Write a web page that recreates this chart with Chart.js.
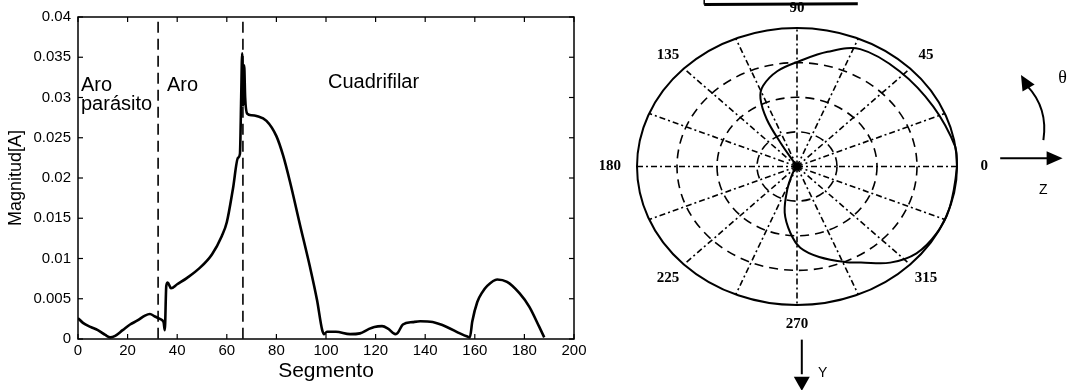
<!DOCTYPE html>
<html>
<head>
<meta charset="utf-8">
<script src="https://cdn.jsdelivr.net/npm/chart.js@4"></script>
<style>
html, body { margin: 0; padding: 0; background: #fff; }
#wrap { position: relative; width: 1075px; height: 390px; overflow: hidden; }
#left { position: absolute; left: 0; top: 0; width: 600px; height: 390px; }
#right { position: absolute; left: 600px; top: 0; width: 475px; height: 390px; }
</style>
</head>
<body>
<div id="wrap">
  <div id="left"><canvas id="currentChart"></canvas></div>
  <div id="right"><canvas id="patternChart"></canvas></div>
</div>
<script>
// CURRENT DISTRIBUTION (left)
const segmento = [0, 2, 5, 8, 11, 13, 15, 18, 21, 24, 27, 29, 31, 33, 34.5, 35, 35.6, 36.2, 37.5, 40,
    44, 49, 54, 58, 60, 62.5, 64.5, 65.3, 65.8, 66.2, 66.6, 67, 67.4, 68.2, 70, 72, 76, 80, 82.7, 85.5,
    89.5, 93.5, 96.4, 98.4, 99.2, 100.4, 104, 109.7, 113.7, 117, 119.5, 122.6, 125, 128, 129, 131, 135, 138, 143, 148.7,
    154, 157, 158, 159, 161, 163, 165, 169, 173, 178, 182, 186, 188];
const magnitud = [0.0026, 0.002, 0.0015, 0.0011, 0.0005, 0.0002, 0.0004, 0.0011, 0.0018, 0.0023, 0.0029, 0.0031, 0.0028, 0.0025, 0.0021, 0.0011, 0.0066, 0.007, 0.0063, 0.0068,
    0.0076, 0.0088, 0.0105, 0.0128, 0.0145, 0.0187, 0.0225, 0.023, 0.030, 0.0355, 0.029, 0.034, 0.030, 0.028, 0.0278, 0.0277, 0.0271, 0.0252, 0.0228, 0.0195,
    0.0142, 0.009, 0.0048, 0.0012, 0.0006, 0.0009, 0.0009, 0.0006, 0.0007, 0.0012, 0.0015, 0.0016, 0.0013, 0.0006, 0.0008, 0.0018, 0.0021, 0.0022, 0.0021, 0.0015,
    0.0007, 0.0003, 0.0002, 0.0022, 0.0046, 0.0058, 0.0066, 0.0074, 0.0071, 0.0057, 0.004, 0.0015, 0.0002];
const divisionSeg = [32.3, 66.5];
const xTickValues = [0, 20, 40, 60, 80, 100, 120, 140, 160, 180, 200];
const yTickValues = [0, 0.005, 0.01, 0.015, 0.02, 0.025, 0.03, 0.035, 0.04];
const regionText = ['Aro', 'parásito', 'Aro', 'Cuadrifilar'];
const regionSeg = [1.2, 1.2, 35.9, 100.8];
const regionMag = [0.0308, 0.02845, 0.0308, 0.0312];

// RADIATION PATTERN (right)
const patternAngle = [121, 121, 119, 115, 110, 100, 89, 77, 65, 47, 27, 8, 0, -18, -29, -40, -50, -60, -66, -78, -88, -95, -103, -110, -120, -120];
const patternMag = [0, 0.2, 0.39, 0.54, 0.62, 0.70, 0.76, 0.85, 0.935, 0.94, 0.955, 1.0, 1.0, 1.0, 0.997, 0.975, 0.906, 0.80, 0.756, 0.668, 0.587, 0.48, 0.342, 0.178, 0.05, 0];
const ringValues = [0.25, 0.5, 0.75];
const spokeAngles = [0, 22.5, 45, 67.5, 90, 112.5, 135, 157.5, 180, 202.5, 225, 247.5, 270, 292.5, 315, 337.5];
const angleLabels = ['0', '45', '90', '135', '180', '225', '270', '315'];

const SANS = '"Liberation Sans", Arial, Helvetica, sans-serif';
const SERIF = '"Liberation Serif", "Times New Roman", serif';

function line(ctx, x1, y1, x2, y2) {
    ctx.beginPath();
    ctx.moveTo(x1, y1);
    ctx.lineTo(x2, y2);
    ctx.stroke();
}

function arrowHead(ctx, tipX, tipY, ang, len, half) {
    ctx.beginPath();
    ctx.moveTo(tipX, tipY);
    ctx.lineTo(tipX - len * Math.cos(ang) + half * Math.sin(ang), tipY - len * Math.sin(ang) - half * Math.cos(ang));
    ctx.lineTo(tipX - len * Math.cos(ang) - half * Math.sin(ang), tipY - len * Math.sin(ang) + half * Math.cos(ang));
    ctx.closePath();
    ctx.fill();
}

// box, inward ticks and region names
const boxPlugin = {
    id: 'boxPlugin',
    afterDraw(chart) {
        const { ctx, chartArea: a, scales: { x, y } } = chart;
        ctx.save();
        ctx.strokeStyle = '#000';
        ctx.lineWidth = 1.5;
        ctx.strokeRect(a.left, a.top, a.right - a.left, a.bottom - a.top);
        ctx.lineWidth = 1.2;
        x.ticks.forEach(t => {
            const p = x.getPixelForValue(t.value);
            line(ctx, p, a.bottom, p, a.bottom - 5);
            line(ctx, p, a.top, p, a.top + 5);
        });
        y.ticks.forEach(t => {
            const p = y.getPixelForValue(t.value);
            line(ctx, a.left, p, a.left + 5, p);
            line(ctx, a.right, p, a.right - 5, p);
        });
        ctx.fillStyle = '#000';
        ctx.font = '20px ' + SANS;
        ctx.textBaseline = 'alphabetic';
        ctx.textAlign = 'left';
        regionText.forEach((txt, i) => {
            ctx.fillText(txt, x.getPixelForValue(regionSeg[i]), y.getPixelForValue(regionMag[i]));
        });
        ctx.restore();
    }
};

const currentConfig = {
    type: 'scatter',
    data: {
        datasets: [
            {
                data: segmento.map((s, i) => ({ x: s, y: magnitud[i] })),
                showLine: true,
                borderColor: '#000',
                borderWidth: 2.6,
                pointRadius: 0,
                cubicInterpolationMode: 'monotone'
            },
            ...divisionSeg.map(s => ({
                data: [{ x: s, y: 0.0394 }, { x: s, y: 0 }],
                showLine: true,
                borderColor: '#000',
                borderWidth: 1.6,
                borderDash: [11, 6],
                pointRadius: 0
            }))
        ]
    },
    options: {
        responsive: true,
        maintainAspectRatio: false,
        animation: false,
        layout: { padding: { top: 17, right: 26, bottom: 6, left: 5 } },
        plugins: { legend: { display: false }, tooltip: { enabled: false } },
        scales: {
            x: {
                type: 'linear',
                min: 0,
                max: 200,
                afterBuildTicks: s => { s.ticks = xTickValues.map(v => ({ value: v })); },
                afterFit: s => { s.height = 45; },
                grid: { display: false, drawTicks: false },
                border: { display: false },
                ticks: { color: '#000', font: { family: SANS, size: 15 }, padding: 3, maxRotation: 0 },
                title: { display: true, text: 'Segmento', color: '#000', font: { family: SANS, size: 21 }, padding: { top: 0, bottom: 0 } }
            },
            y: {
                type: 'linear',
                min: 0,
                max: 0.04,
                afterBuildTicks: s => { s.ticks = yTickValues.map(v => ({ value: v })); },
                afterFit: s => { s.width = 73; },
                grid: { display: false, drawTicks: false },
                border: { display: false },
                ticks: { color: '#000', font: { family: SANS, size: 15 }, padding: 7, callback: v => String(Number(v.toFixed(3))) },
                title: { display: true, text: 'Magnitud[A]', color: '#000', font: { family: SANS, size: 18 }, padding: { top: 0, bottom: 0 } }
            }
        }
    },
    plugins: [boxPlugin]
};

// polar grid drawn on the scatter scales
const polarGrid = {
    id: 'polarGrid',
    beforeDatasetsDraw(chart) {
        const { ctx, scales: { x, y } } = chart;
        const cx = x.getPixelForValue(0), cy = y.getPixelForValue(0);
        const rx = r => x.getPixelForValue(r) - cx;
        const ry = r => cy - y.getPixelForValue(r);
        ctx.save();
        ctx.strokeStyle = '#000';
        ctx.lineWidth = 1.6;
        ctx.setLineDash([9, 6]);
        ringValues.forEach(r => {
            ctx.beginPath();
            ctx.ellipse(cx, cy, rx(r), ry(r), 0, 0, Math.PI * 2);
            ctx.stroke();
        });
        ctx.setLineDash([6, 3, 2, 3]);
        spokeAngles.forEach(a => {
            const t = a * Math.PI / 180;
            line(ctx, cx, cy, x.getPixelForValue(Math.cos(t)), y.getPixelForValue(Math.sin(t)));
        });
        ctx.setLineDash([]);
        ctx.lineWidth = 2;
        ctx.beginPath();
        ctx.ellipse(cx, cy, rx(1), ry(1), 0, 0, Math.PI * 2);
        ctx.stroke();
        ctx.fillStyle = '#000';
        ctx.beginPath();
        ctx.arc(cx, cy, 4, 0, Math.PI * 2);
        ctx.fill();
        ctx.restore();
    },
    afterDraw(chart) {
        const { ctx, scales: { x, y } } = chart;
        const X = v => x.getPixelForValue(v), Y = v => y.getPixelForValue(v);
        ctx.save();
        ctx.fillStyle = '#000';
        ctx.strokeStyle = '#000';
        ctx.font = 'bold 15px ' + SERIF;
        ctx.textAlign = 'center';
        ctx.textBaseline = 'middle';
        angleLabels.forEach((lbl, i) => {
            const t = i * 45 * Math.PI / 180;
            const k = (i % 4 === 0) ? 1.17 : 1.14;
            ctx.fillText(lbl, X(k * Math.cos(t)), Y(k * Math.sin(t)));
        });
        // Z axis arrow
        ctx.lineWidth = 2;
        line(ctx, X(1.27), Y(0.06), X(1.6), Y(0.06));
        arrowHead(ctx, X(1.66), Y(0.06), 0, 16, 7);
        ctx.font = '14px ' + SANS;
        ctx.fillText('Z', X(1.54), Y(-0.17));
        // theta arrow
        ctx.beginPath();
        ctx.moveTo(X(1.54), Y(0.19));
        ctx.quadraticCurveTo(X(1.57), Y(0.42), X(1.44), Y(0.58));
        ctx.stroke();
        arrowHead(ctx, X(1.40), Y(0.66), -2.1, 15, 7);
        ctx.font = '18px ' + SERIF;
        ctx.fillText('\u03b8', X(1.66), Y(0.64));
        // Y axis arrow
        line(ctx, X(0.03), Y(-1.25), X(0.03), Y(-1.50));
        arrowHead(ctx, X(0.03), Y(-1.62), Math.PI / 2, 14, 8);
        ctx.font = '14px ' + SANS;
        ctx.fillText('Y', X(0.16), Y(-1.49));
        // bottom edge of the cropped box above
        ctx.lineWidth = 3;
        line(ctx, X(-0.58), Y(1.17), X(0.38), Y(1.175));
        ctx.lineWidth = 1.5;
        line(ctx, X(-0.58), Y(1.22), X(-0.58), Y(1.17));
        ctx.restore();
    }
};

const patternConfig = {
    type: 'scatter',
    data: {
        datasets: [{
            data: patternAngle.map((a, i) => ({
                x: patternMag[i] * Math.cos(a * Math.PI / 180),
                y: patternMag[i] * Math.sin(a * Math.PI / 180)
            })),
            showLine: true,
            borderColor: '#000',
            borderWidth: 2,
            pointRadius: 0,
            tension: 0.35,
            clip: false
        }]
    },
    options: {
        responsive: true,
        maintainAspectRatio: false,
        animation: false,
        layout: { padding: { left: 37, top: 28, right: 118, bottom: 85 } },
        plugins: { legend: { display: false }, tooltip: { enabled: false } },
        scales: {
            x: { type: 'linear', min: -1, max: 1, display: false },
            y: { type: 'linear', min: -1, max: 1, display: false }
        }
    },
    plugins: [polarGrid]
};

function initCharts() {
    if (typeof Chart === 'undefined') {
        console.error('Chart.js is not loaded.');
        return;
    }
    new Chart(document.getElementById('currentChart').getContext('2d'), currentConfig);
    new Chart(document.getElementById('patternChart').getContext('2d'), patternConfig);
}

if (document.readyState === 'loading') {
    document.addEventListener('DOMContentLoaded', initCharts);
} else {
    initCharts();
}
</script>
</body>
</html>
